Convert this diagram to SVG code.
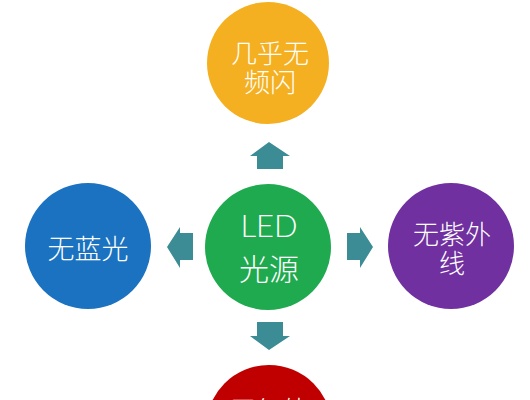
<svg xmlns="http://www.w3.org/2000/svg" width="530" height="400" viewBox="0 0 530 400">
<style>
.lbl{font-family:"Noto Sans CJK SC","Noto Sans",sans-serif;font-size:26px;font-weight:300;fill:#ffffff;text-anchor:middle;dominant-baseline:central}
.arrow{fill:#3C8C95}
</style>
<rect width="530" height="400" fill="#ffffff"/>
<g id="connectors">
<polygon class="arrow" points="269,142 290,156 283,156 283,169 257,169 257,156 250,156"/>
<polygon class="arrow" points="269,350 290,336 283,336 283,322 257,322 257,336 250,336"/>
<polygon class="arrow" points="167,247 180,227 180,233 193,233 193,260 180,260 180,268"/>
<polygon class="arrow" points="373,247 360,227 360,233 347,233 347,260 360,260 360,268"/>
</g>
<g id="node-top">
<circle cx="268" cy="63" r="61" fill="#F4B021"/>
<text class="lbl" x="270" y="51">几乎无</text>
<text class="lbl" x="270" y="80">频闪</text>
</g>
<g id="node-center">
<circle cx="268" cy="247" r="63" fill="#1FAA50"/>
<text class="lbl" x="269" y="225" style="font-family:Lato,'Noto Sans',sans-serif;font-size:31px">LED</text>
<text class="lbl" x="269" y="267" style="font-size:30px">光源</text>
</g>
<g id="node-left">
<circle cx="88" cy="246" r="63" fill="#1A72C0"/>
<text class="lbl" x="88" y="247" style="font-size:27px">无蓝光</text>
</g>
<g id="node-right">
<circle cx="451" cy="246" r="63" fill="#7030A0"/>
<text class="lbl" x="452" y="232">无紫外</text>
<text class="lbl" x="452" y="261">线</text>
</g>
<g id="node-bottom">
<circle cx="269" cy="428" r="63" fill="#C00000"/>
<text class="lbl" x="269" y="408">无红外</text>
</g>
</svg>
